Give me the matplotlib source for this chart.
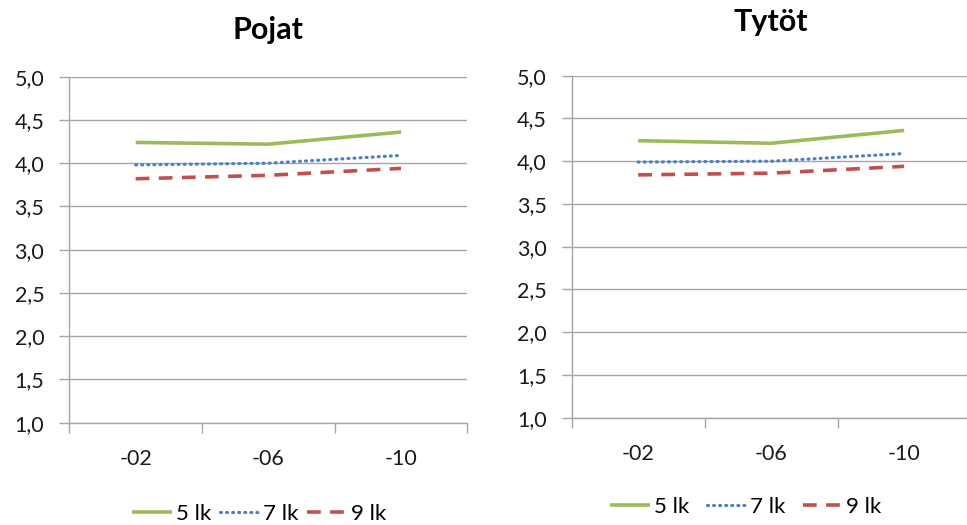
import numpy as np
import matplotlib
matplotlib.use('Agg')
import matplotlib.pyplot as plt
from matplotlib.ticker import FuncFormatter, FixedLocator

plt.rcParams['font.family'] = ['Lato', 'DejaVu Sans']

years = ['-02', '-06', '-10']
labels = ['5 lk', '7 lk', '9 lk']

# Pojat
boys_5 = [4.24, 4.22, 4.36]
boys_7 = [3.98, 4.00, 4.09]
boys_9 = [3.82, 3.86, 3.94]
# Tytöt
girls_5 = [4.24, 4.21, 4.36]
girls_7 = [3.99, 4.00, 4.09]
girls_9 = [3.84, 3.86, 3.94]

colors = ['#9BBB59', '#4F81BD', '#C0504D']
grid_col = '#A6A6A6'

fig = plt.figure(figsize=(9.67, 5.25), dpi=100)
ax1 = fig.add_axes([0.0717, 0.1949, 0.4116, 0.659])
ax2 = fig.add_axes([0.5912, 0.2044, 0.4126, 0.6514])

def draw(ax, s5, s7, s9, title, title_y, leg_y, leg_x, colsp):
    x = np.arange(len(years)) + 0.5
    l1, = ax.plot(x, s5, color=colors[0], lw=2.6, solid_capstyle='butt')
    l2, = ax.plot(x, s7, color=colors[1], lw=2.3, linestyle=(0, (0.3, 1.6)),
                  dash_capstyle='round')
    l3, = ax.plot(x, s9, color=colors[2], lw=2.6, linestyle=(0, (3.8, 2.6)),
                  dash_capstyle='butt')
    ax.set_xlim(0, 3)
    ax.set_ylim(1.0, 5.0)
    ax.set_yticks(np.arange(1.0, 5.01, 0.5))
    ax.yaxis.set_major_formatter(FuncFormatter(lambda v, p: ('%.1f' % v).replace('.', ',')))
    ax.set_xticks(x)
    ax.set_xticklabels(years)
    ax.xaxis.set_minor_locator(FixedLocator([0, 1, 2, 3]))
    ax.tick_params(axis='x', which='major', length=0, pad=19, labelsize=15.5, labelcolor='#1a1a1a')
    ax.tick_params(axis='x', which='minor', length=7, width=1, color=grid_col, direction='out')
    ax.tick_params(axis='y', length=7, width=1, color=grid_col, pad=11, labelsize=15.5,
                   labelcolor='#1a1a1a')
    ax.grid(axis='y', color=grid_col, lw=1)
    ax.set_axisbelow(True)
    for s in ['top', 'right']:
        ax.spines[s].set_visible(False)
    for s in ['left', 'bottom']:
        ax.spines[s].set_color(grid_col)
        ax.spines[s].set_linewidth(1)
    pos = ax.get_position()
    fig.text(pos.x0 + pos.width / 2, title_y, title, ha='center', va='center', fontsize=22,
             fontweight='bold')
    fig.legend([l1, l2, l3], labels, loc='center', bbox_to_anchor=(leg_x, leg_y),
               ncol=3, frameon=False, fontsize=16, handlelength=1.8,
               handletextpad=0.15, columnspacing=colsp, borderpad=0)

draw(ax1, boys_5, boys_7, boys_9, 'Pojat', 1 - 30 / 525, 1 - 514 / 525, 259 / 967, 0.4)
draw(ax2, girls_5, girls_7, girls_9, 'Tytöt', 1 - 22 / 525, 1 - 507 / 525, 746 / 967, 0.8)

fig.savefig('out.png', dpi=100, facecolor='white')
